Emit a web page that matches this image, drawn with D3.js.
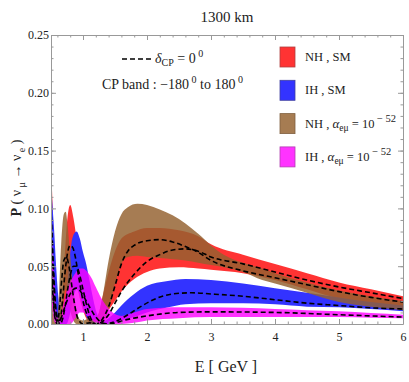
<!DOCTYPE html>
<html>
<head>
<meta charset="utf-8">
<script src="https://cdn.jsdelivr.net/npm/d3@7"></script>
<style>
  body { margin: 0; background: #fff; }
  svg text { font-family: "Liberation Serif", "DejaVu Serif", serif; fill: #222; }
</style>
</head>
<body>
<script>
const W = 409, H = 382;
const margin = { left: 51, right: 6, top: 35, bottom: 58 };

// NH, SM band (delta_CP from -180 to 180)
const redE  = [0.5,0.52,0.55,0.58,0.62,0.66,0.7,0.75,0.8,0.85,0.9,0.95,1.0,1.05,1.1,1.15,1.2,1.25,1.3,1.4,1.5,1.6,1.8,2.0,2.2,2.5,2.8,3.0,3.5,4.0,4.5,5.0,5.5,6.0];
const redHi = [0.139,0.11,0.06,0.025,0.006,0.012,0.045,0.088,0.103,0.092,0.074,0.057,0.042,0.028,0.017,0.009,0.006,0.010,0.022,0.045,0.063,0.074,0.080,0.083,0.083,0.081,0.076,0.069,0.060,0.052,0.044,0.036,0.030,0.024];
const redLo = [0.06,0.03,0.008,0,0,0,0.005,0.02,0.035,0.04,0.035,0.022,0.012,0.005,0.001,0,0,0,0.002,0.012,0.020,0.028,0.039,0.045,0.048,0.049,0.048,0.047,0.044,0.038,0.030,0.022,0.018,0.015];

// IH, SM band
const blueE  = [0.5,0.52,0.55,0.58,0.62,0.66,0.7,0.74,0.78,0.82,0.86,0.9,0.95,1.0,1.05,1.1,1.15,1.2,1.25,1.3,1.4,1.5,1.6,1.8,2.0,2.3,2.6,3.0,3.5,4.0,4.5,5.0,5.5,6.0];
const blueHi = [0.122,0.105,0.08,0.05,0.02,0.005,0.008,0.025,0.05,0.07,0.078,0.080,0.074,0.062,0.052,0.038,0.024,0.012,0.005,0.002,0.005,0.010,0.016,0.026,0.033,0.037,0.039,0.038,0.035,0.031,0.027,0.023,0.019,0.016];
const blueLo = [0.05,0.03,0.01,0,0,0,0,0,0.005,0.015,0.025,0.03,0.025,0.015,0.007,0.002,0,0,0,0,0,0.001,0.003,0.006,0.010,0.014,0.017,0.018,0.018,0.017,0.015,0.0145,0.013,0.011];

// NH, alpha_emu = 1e-52 band
const brownE  = [0.5,0.53,0.56,0.59,0.62,0.66,0.7,0.73,0.76,0.8,0.85,0.9,0.95,1.0,1.1,1.2,1.3,1.4,1.5,1.6,1.7,1.85,2.0,2.2,2.4,2.6,2.8,3.0,3.2,3.5,3.8,4.0,4.5,5.0,5.5,6.0];
const brownHi = [0.07,0.04,0.012,0.003,0.02,0.07,0.095,0.097,0.085,0.06,0.03,0.012,0.004,0.003,0.005,0.004,0.022,0.055,0.080,0.095,0.101,0.104,0.103,0.099,0.094,0.087,0.078,0.068,0.060,0.053,0.048,0.044,0.036,0.029,0.024,0.020];
const brownLo = [0,0,0,0,0,0.005,0.02,0.03,0.025,0.012,0.003,0,0,0,0,0,0,0.012,0.035,0.052,0.058,0.059,0.058,0.057,0.056,0.055,0.053,0.051,0.049,0.045,0.038,0.035,0.027,0.019,0.015,0.012];

// IH, alpha_emu = 1e-52 band
const magE  = [0.5,0.52,0.55,0.58,0.62,0.66,0.7,0.75,0.8,0.88,0.95,1.0,1.05,1.13,1.2,1.28,1.36,1.44,1.52,1.6,1.8,2.0,2.5,3.0,3.5,4.0,4.5,5.0,5.5,6.0];
const magHi = [0.09,0.07,0.04,0.012,0.003,0.008,0.018,0.028,0.036,0.044,0.048,0.048,0.046,0.040,0.032,0.023,0.016,0.011,0.008,0.007,0.010,0.013,0.0145,0.0145,0.014,0.013,0.012,0.011,0.0095,0.008];
const magLo = [0.03,0.015,0.003,0,0,0,0,0,0,0.005,0.01,0.01,0.008,0.004,0.001,0,0,0,0,0,0.001,0.003,0.005,0.006,0.006,0.006,0.006,0.006,0.0055,0.005];

// delta_CP = 0 curves
const redCpE = [0.5,0.53,0.56,0.6,0.64,0.68,0.72,0.76,0.8,0.84,0.88,0.92,0.96,1.0,1.05,1.1,1.15,1.2,1.3,1.4,1.5,1.6,1.8,2.0,2.2,2.4,2.6,2.8,3.0,3.5,4.0,4.5,5.0,5.5,6.0];
const redCp  = [0.10,0.06,0.025,0.005,0.003,0.02,0.045,0.062,0.068,0.066,0.058,0.045,0.032,0.020,0.010,0.004,0.001,0.0,0.002,0.008,0.018,0.028,0.043,0.054,0.060,0.064,0.065,0.063,0.058,0.052,0.045,0.038,0.032,0.027,0.022];
const blueCpE = [0.5,0.53,0.56,0.6,0.64,0.68,0.72,0.76,0.8,0.85,0.9,0.95,1.0,1.05,1.1,1.15,1.2,1.3,1.5,1.7,1.9,2.1,2.4,2.7,3.0,3.5,4.0,4.5,5.0,5.5,6.0];
const blueCp  = [0.08,0.05,0.02,0.004,0.0,0.004,0.015,0.03,0.042,0.05,0.05,0.042,0.03,0.018,0.008,0.002,0.0,0.0,0.002,0.008,0.015,0.021,0.026,0.027,0.026,0.024,0.021,0.018,0.016,0.014,0.013];
const brownCpE = [0.5,0.53,0.56,0.6,0.63,0.67,0.7,0.74,0.78,0.82,0.86,0.9,0.95,1.0,1.1,1.2,1.3,1.4,1.5,1.6,1.7,1.8,2.0,2.2,2.4,2.6,2.8,3.0,3.5,4.0,4.5,5.0,5.5,6.0];
const brownCp  = [0.06,0.03,0.008,0.002,0.012,0.04,0.055,0.058,0.05,0.035,0.02,0.008,0.002,0.0,0.001,0.0,0.004,0.015,0.033,0.052,0.063,0.068,0.072,0.073,0.071,0.067,0.062,0.055,0.046,0.040,0.034,0.028,0.023,0.019];
const magCpE = [0.5,0.53,0.56,0.6,0.65,0.7,0.75,0.8,0.85,0.9,0.95,1.0,1.1,1.2,1.3,1.4,1.5,1.7,2.0,2.5,3.0,4.0,5.0,6.0];
const magCp  = [0.05,0.025,0.006,0.0,0.004,0.012,0.02,0.026,0.03,0.031,0.029,0.025,0.015,0.006,0.001,0.0,0.001,0.004,0.007,0.010,0.0105,0.010,0.008,0.006];

const xTicks = [1, 2, 3, 4, 5, 6];
const yTicks = [0, 0.05, 0.10, 0.15, 0.20, 0.25];

const x = d3.scaleLinear().domain([0.5, 6]).range([margin.left, W - margin.right]);
const y = d3.scaleLinear().domain([0, 0.25]).range([H - margin.bottom, margin.top]);

const svg = d3.select('body').append('svg').attr('width', W).attr('height', H);

svg.append('clipPath').attr('id', 'plot')
  .append('rect')
  .attr('x', x(0.5)).attr('y', y(0.25))
  .attr('width', x(6) - x(0.5)).attr('height', y(0) - y(0.25));

const bands = [
  { E: redE, lo: redLo, hi: redHi, fill: 'rgb(255,51,51)', op: 1 },
  { E: blueE, lo: blueLo, hi: blueHi, fill: 'rgb(51,51,255)', op: 1 },
  { E: brownE, lo: brownLo, hi: brownHi, fill: 'rgb(148,98,48)', op: 0.83 },
  { E: magE, lo: magLo, hi: magHi, fill: 'rgb(255,0,255)', op: 0.8 }
];

const area = d3.area()
  .x(d => x(d[0])).y0(d => y(d[1])).y1(d => y(d[2]))
  .curve(d3.curveMonotoneX);

const g = svg.append('g').attr('clip-path', 'url(#plot)');
bands.forEach(b => {
  g.append('path')
    .datum(b.E.map((e, i) => [e, b.lo[i], b.hi[i]]))
    .attr('d', area)
    .attr('fill', b.fill)
    .attr('fill-opacity', b.op);
});

const line = d3.line().x(d => x(d[0])).y(d => y(d[1])).curve(d3.curveMonotoneX);
[[redCpE, redCp], [blueCpE, blueCp], [brownCpE, brownCp], [magCpE, magCp]].forEach(([es, ps]) => {
  g.append('path')
    .datum(es.map((e, i) => [e, ps[i]]))
    .attr('d', line)
    .attr('fill', 'none')
    .attr('stroke', '#000')
    .attr('stroke-width', 1.6)
    .attr('stroke-dasharray', '5,3');
});

// frame and ticks (Mathematica style, pointing inward)
const minorX = d3.range(0.6, 6.001, 0.2).map(v => +v.toFixed(1));
const minorY = d3.range(0, 0.2501, 0.01).map(v => +v.toFixed(2));
const axes = [
  { f: d3.axisBottom(x), tr: `translate(0,${y(0)})`, major: xTicks, minor: minorX, lab: true, pad: 8, fmt: d3.format('d') },
  { f: d3.axisTop(x), tr: `translate(0,${y(0.25)})`, major: xTicks, minor: minorX, lab: false },
  { f: d3.axisLeft(y), tr: `translate(${x(0.5)},0)`, major: yTicks, minor: minorY, lab: true, pad: 2, fmt: d3.format('.2f') },
  { f: d3.axisRight(y), tr: `translate(${x(6)},0)`, major: yTicks, minor: minorY, lab: false }
];
axes.forEach(a => {
  svg.append('g').attr('transform', a.tr)
    .call(a.f.tickValues(a.minor).tickSize(-2.5).tickSizeOuter(0).tickFormat(''))
    .call(s => s.select('.domain').attr('stroke', '#999'))
    .call(s => s.selectAll('line').attr('stroke', '#999'));
  const ax = svg.append('g').attr('transform', a.tr)
    .call(a.f.tickValues(a.major).tickSize(-5).tickSizeOuter(0).tickPadding(a.lab ? a.pad : 3)
      .tickFormat(a.lab ? a.fmt : ''))
    .call(s => s.select('.domain').remove())
    .call(s => s.selectAll('line').attr('stroke', '#999'));
  ax.selectAll('text').attr('font-size', 12).attr('fill', '#222')
    .style('font-family', '"Liberation Serif", serif');
});

// titles
svg.append('text').attr('x', 227).attr('y', 22).attr('text-anchor', 'middle')
  .attr('font-size', 15).text('1300  km');
svg.append('text').attr('x', 226).attr('y', 372).attr('text-anchor', 'middle')
  .attr('font-size', 16).text('E [ GeV ]');

const yl = svg.append('text')
  .attr('transform', 'translate(21,178) rotate(-90)')
  .attr('text-anchor', 'middle').attr('font-size', 14);
yl.append('tspan').attr('font-weight', 'bold').text('P');
yl.append('tspan').text(' (  ν');
yl.append('tspan').attr('font-size', 10).attr('dy', 4).text(' μ');
yl.append('tspan').attr('dy', -4).text('  →  ν');
yl.append('tspan').attr('font-size', 10).attr('dy', 4).text(' e');
yl.append('tspan').attr('dy', -4).text('  )');

// legend, top middle
svg.append('line').attr('x1', 122).attr('x2', 152).attr('y1', 59).attr('y2', 59)
  .attr('stroke', '#000').attr('stroke-width', 1.6).attr('stroke-dasharray', '5,3');
const t1 = svg.append('text').attr('x', 155).attr('y', 63).attr('font-size', 14);
t1.append('tspan').attr('font-style', 'italic').text('δ');
t1.append('tspan').attr('font-size', 10).attr('dy', 3).text('CP');
t1.append('tspan').attr('dy', -3).text(' = 0');
t1.append('tspan').attr('font-size', 10).attr('dy', -6).text(' 0');

const t2 = svg.append('text').attr('x', 102).attr('y', 89).attr('font-size', 14);
t2.append('tspan').text('CP  band : −180');
t2.append('tspan').attr('font-size', 10).attr('dy', -6).text(' 0');
t2.append('tspan').attr('dy', 6).text('  to  180');
t2.append('tspan').attr('font-size', 10).attr('dy', -6).text(' 0');

// legend, right
const legendNames = ['NH , SM', 'IH , SM', 'NH , ', 'IH , '];
const legendColors = ['rgb(255,51,51)', 'rgb(51,51,255)', 'rgb(166,124,82)', 'rgb(255,51,255)'];
const legendStroke = ['#b04040', '#4040a0', '#806040', '#b040b0'];
legendNames.forEach((name, i) => {
  const cy = 57 + i * 33.3;
  svg.append('rect').attr('x', 280).attr('y', cy - 10).attr('width', 15).attr('height', 20)
    .attr('fill', legendColors[i]).attr('stroke', legendStroke[i]).attr('stroke-width', 0.8);
  const t = svg.append('text').attr('x', 305).attr('y', cy + 4).attr('font-size', 12.5);
  t.append('tspan').text(name);
  if (i >= 2) {
    t.append('tspan').attr('font-style', 'italic').attr('font-size', 13).text('α');
    t.append('tspan').attr('font-size', 9.5).attr('dy', 3).text('eμ');
    t.append('tspan').attr('dy', -3).text(' = 10');
    t.append('tspan').attr('font-size', 10.5).attr('dy', -6).text(' − 52');
  }
});
</script>
</body>
</html>
